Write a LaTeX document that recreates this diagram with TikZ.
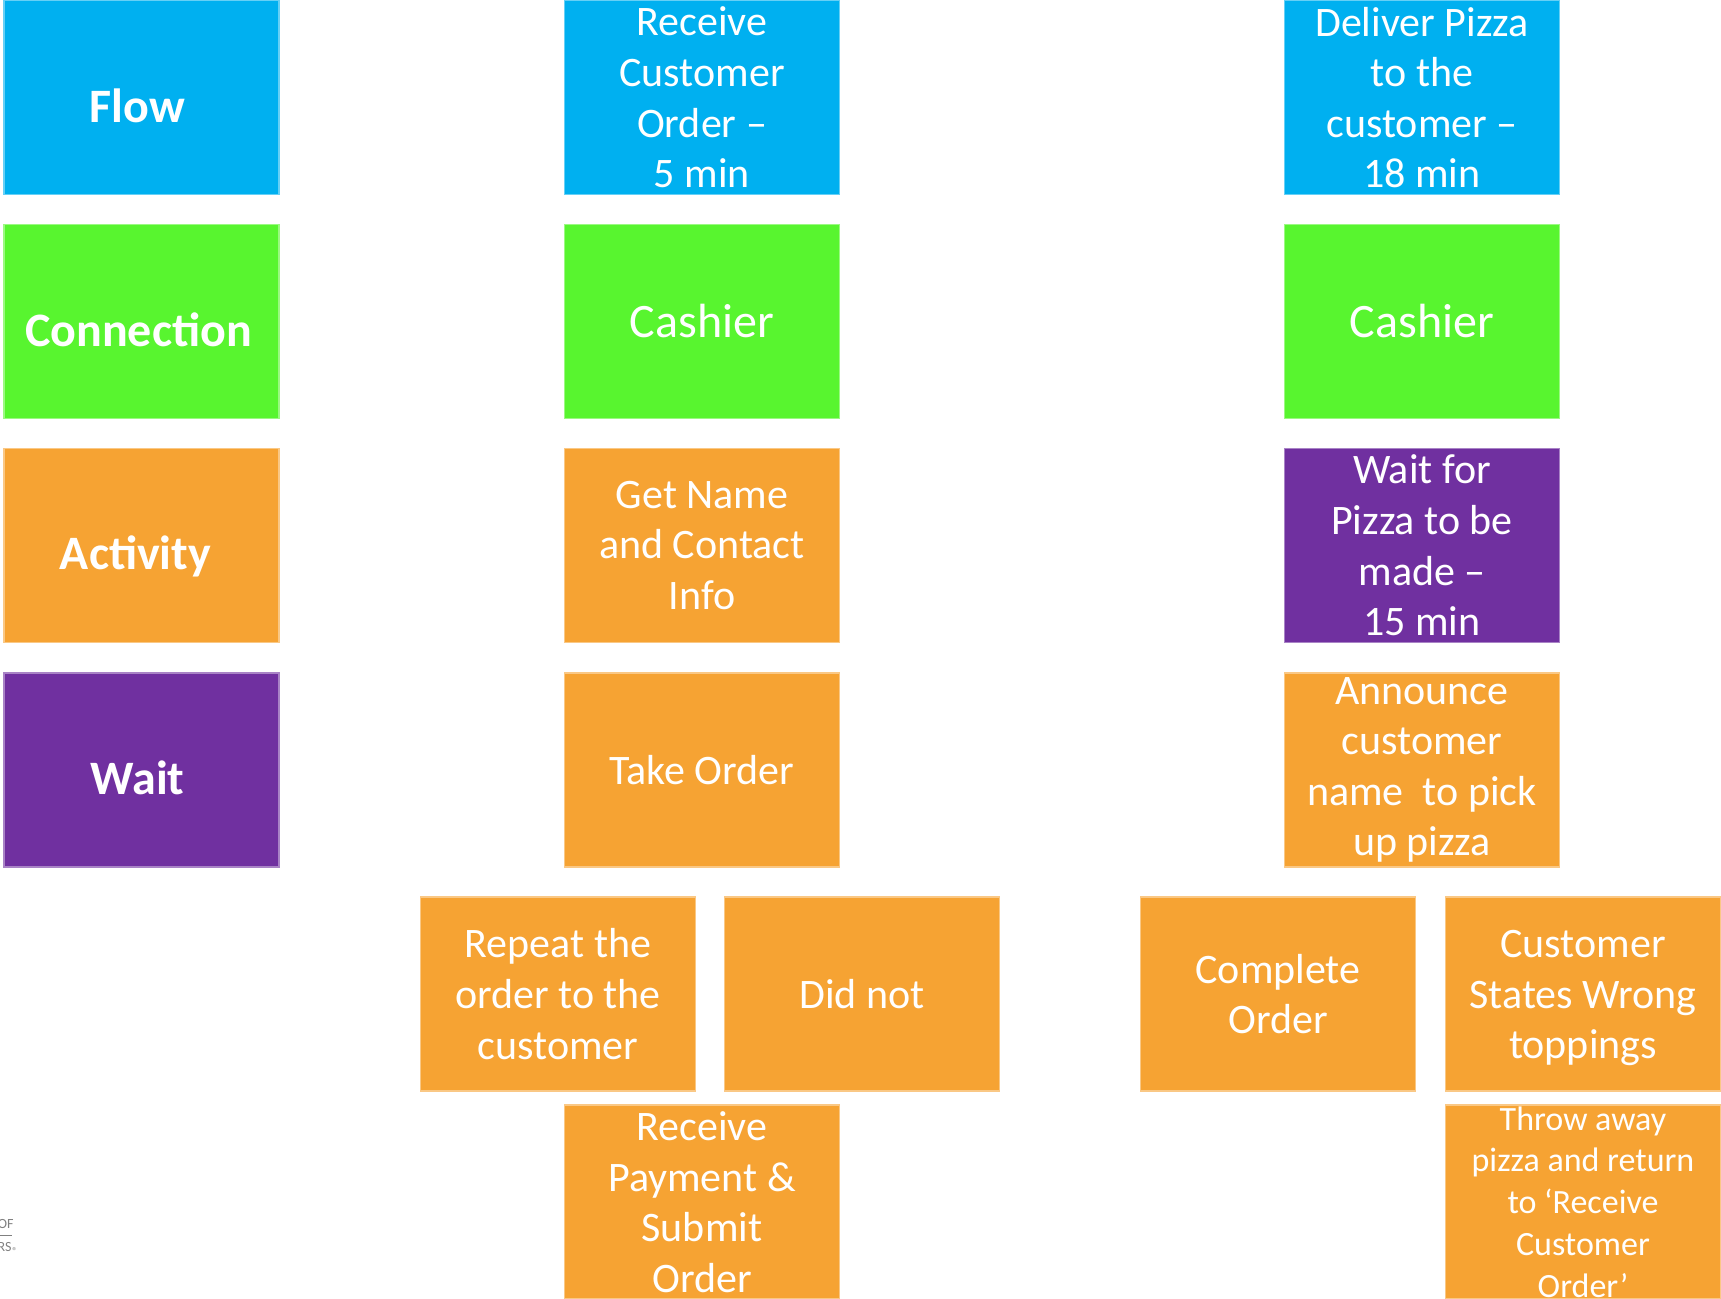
\documentclass[tikz,border=0pt]{standalone}
\usepackage{fontspec}
\setmainfont{Carlito}
\definecolor{cblue}{HTML}{00B0F0}
\definecolor{cgreen}{HTML}{58F52F}
\definecolor{corange}{HTML}{F6A333}
\definecolor{cpurple}{HTML}{7030A0}
\definecolor{cgray}{HTML}{808080}
\tikzset{
  box/.style={minimum width=137.5pt, minimum height=97pt, inner sep=0pt,
    text=white, align=center, line width=0.6pt,
    font=\fontsize{21}{25.3}\selectfont},
  bluebox/.style={box, fill=cblue, draw=cblue!60!white},
  greenbox/.style={box, fill=cgreen, draw=cgreen!60!white},
  orangebox/.style={box, fill=corange, draw=corange!60!white},
  purplebox/.style={box, fill=cpurple, draw=cpurple!60!white},
  legend/.style={font=\fontsize{24}{29}\selectfont\bfseries, text=white, inner sep=0pt},
  bigtext/.style={font=\fontsize{24}{29}\selectfont},
  small/.style={font=\fontsize{17}{20.9}\selectfont},
  logo/.style={text=cgray, inner sep=0pt, font=\fontsize{7}{8}\selectfont}
}
\begin{document}
\begin{tikzpicture}[x=0.5pt,y=-0.5pt]
\useasboundingbox (0,0) rectangle (1721,1299);
% legend column
\node[bluebox]   (flow) at (141.5,97.5)  {};
\node[greenbox]  (conn) at (141.5,321.5) {};
\node[orangebox] (act)  at (141.5,545.5) {};
\node[purplebox] (wait) at (141.5,770)   {};
\node[legend, xshift=-2pt, yshift=-4pt] (flowt) at (flow) {Flow};
\node[legend, xshift=-1.5pt, yshift=-4pt] (connt) at (conn) {Connection};
\node[legend, xshift=-3pt, yshift=-5.5pt] (actt)  at (act)  {Activity};
\node[legend, xshift=-2pt, yshift=-4pt] (waitt) at (wait) {Wait};
% middle column
\node[bluebox]   (recv)  at (702,97.5)  {Receive\\Customer\\Order –\\5 min};
\node[greenbox, bigtext]  (cash1) at (702,321.5) {Cashier};
\node[orangebox] (name)  at (702,545.5) {Get Name\\and Contact\\Info};
\node[orangebox] (take)  at (702,770)   {Take Order};
\node[orangebox] (rep)   at (558,994)   {Repeat the\\order to the\\customer};
\node[orangebox] (didnot) at (862,994)  {Did not};
\node[orangebox] (pay)   at (702,1202)  {Receive\\Payment \&\\Submit\\Order};
% right column
\node[bluebox]   (deliv) at (1422,97.5)  {Deliver Pizza\\to the\\customer –\\18 min};
\node[greenbox, bigtext]  (cash2) at (1422,321.5) {Cashier};
\node[purplebox] (waitp) at (1422,545.5) {Wait for\\Pizza to be\\made –\\15 min};
\node[orangebox] (ann)   at (1422,770)   {Announce\\customer\\name\ \ to pick\\up pizza};
\node[orangebox] (comp)  at (1278,994)   {Complete\\Order};
\node[orangebox] (wrong) at (1583,994)   {};
\node[text=white, align=center, inner sep=0pt, font=\fontsize{21}{25.3}\selectfont, yshift=-2pt] (wrongt) at (wrong) {Customer\\States Wrong\\toppings};
\node[orangebox, small] (throw) at (1583,1202) {Throw away\\pizza and return\\to ‘Receive\\Customer\\Order’};
% cut-off logo
\node[logo, anchor=base east] (logo1) at (14,1228) {OF};
\draw[cgray, line width=0.4pt] (0,1235) -- (12,1235);
\node[logo, anchor=base east] (logo2) at (12,1251) {RS};
\node[logo, anchor=base west, font=\fontsize{5}{6}\selectfont] (logo3) at (12,1254) {®};
\end{tikzpicture}
\end{document}
